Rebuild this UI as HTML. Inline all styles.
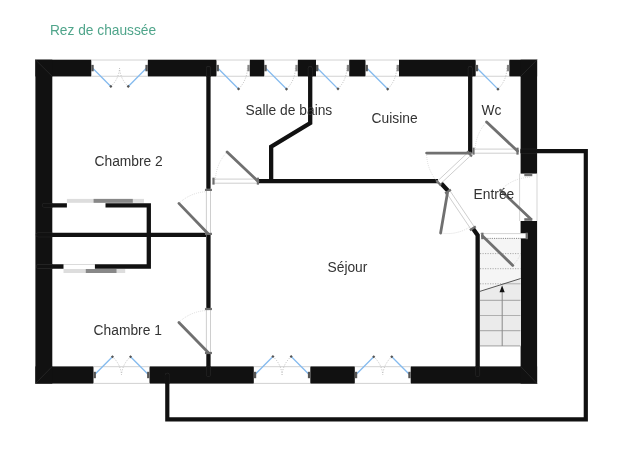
<!DOCTYPE html>
<html><head><meta charset="utf-8"><style>
html,body{margin:0;padding:0;background:#fff;overflow:hidden;width:618px;height:462px;}
svg{display:block;will-change:transform;font-family:"Liberation Sans",sans-serif;}
</style></head><body>
<svg width="618" height="462" viewBox="0 0 618 462">
<rect width="618" height="462" fill="#fff"/>
<rect x="35.4" y="59.7" width="55.90" height="16.75" fill="#111"/>
<rect x="147.8" y="59.7" width="68.70" height="16.75" fill="#111"/>
<rect x="249.8" y="59.7" width="14.50" height="16.75" fill="#111"/>
<rect x="297.8" y="59.7" width="18.20" height="16.75" fill="#111"/>
<rect x="349.2" y="59.7" width="16.30" height="16.75" fill="#111"/>
<rect x="399" y="59.7" width="76.70" height="16.75" fill="#111"/>
<rect x="509.3" y="59.7" width="27.80" height="16.75" fill="#111"/>
<rect x="35.4" y="366.4" width="58.10" height="17.2" fill="#111"/>
<rect x="149.5" y="366.4" width="104.30" height="17.2" fill="#111"/>
<rect x="310.3" y="366.4" width="44.50" height="17.2" fill="#111"/>
<rect x="410.7" y="366.4" width="126.40" height="17.2" fill="#111"/>
<rect x="35.4" y="59.7" width="16.9" height="323.90" fill="#111"/>
<rect x="520.6" y="59.7" width="16.5" height="113.90" fill="#111"/>
<rect x="520.6" y="221" width="16.5" height="162.60" fill="#111"/>
<line x1="35.4" y1="59.7" x2="52.3" y2="76.45" stroke="#2c2c2c" stroke-width="0.7"/>
<line x1="537.1" y1="59.7" x2="520.6" y2="76.45" stroke="#2c2c2c" stroke-width="0.7"/>
<line x1="35.4" y1="383.6" x2="52.3" y2="366.4" stroke="#2c2c2c" stroke-width="0.7"/>
<line x1="537.1" y1="383.6" x2="520.6" y2="366.4" stroke="#2c2c2c" stroke-width="0.7"/>
<line x1="91.3" y1="60.0" x2="147.8" y2="60.0" stroke="#d2d2d2" stroke-width="1"/>
<line x1="91.3" y1="76.25" x2="147.8" y2="76.25" stroke="#d2d2d2" stroke-width="1"/>
<path d="M110.85,86.42 A27.05,27.05 0 0 0 119.55,68.08" fill="none" stroke="#9a9a9a" stroke-width="0.65" stroke-dasharray="1,1.5"/>
<line x1="92.50" y1="68.08" x2="110.85" y2="86.42" stroke="#84baee" stroke-width="1.3"/>
<rect x="109.75" y="85.32" width="2.2" height="2.2" fill="#555" transform="rotate(45 110.85 86.42)"/>
<path d="M128.25,86.42 A27.05,27.05 0 0 1 119.55,68.08" fill="none" stroke="#9a9a9a" stroke-width="0.65" stroke-dasharray="1,1.5"/>
<line x1="146.60" y1="68.08" x2="128.25" y2="86.42" stroke="#84baee" stroke-width="1.3"/>
<rect x="127.15" y="85.32" width="2.2" height="2.2" fill="#555" transform="rotate(45 128.25 86.42)"/>
<rect x="91.30" y="64.88" width="2.4" height="6.4" fill="#555"/>
<rect x="145.40" y="64.88" width="2.4" height="6.4" fill="#555"/>
<line x1="216.5" y1="60.0" x2="249.8" y2="60.0" stroke="#d2d2d2" stroke-width="1"/>
<line x1="216.5" y1="76.25" x2="249.8" y2="76.25" stroke="#d2d2d2" stroke-width="1"/>
<path d="M238.56,88.93 A29.70,29.70 0 0 0 247.40,68.08" fill="none" stroke="#9a9a9a" stroke-width="0.65" stroke-dasharray="1,1.5"/>
<line x1="217.70" y1="68.08" x2="238.56" y2="88.93" stroke="#84baee" stroke-width="1.3"/>
<rect x="237.46" y="87.83" width="2.2" height="2.2" fill="#555" transform="rotate(45 238.56 88.93)"/>
<rect x="216.50" y="64.88" width="2.4" height="6.4" fill="#555"/>
<rect x="247.40" y="64.88" width="2.4" height="6.4" fill="#888"/>
<line x1="264.3" y1="60.0" x2="297.8" y2="60.0" stroke="#d2d2d2" stroke-width="1"/>
<line x1="264.3" y1="76.25" x2="297.8" y2="76.25" stroke="#d2d2d2" stroke-width="1"/>
<path d="M286.50,89.08 A29.90,29.90 0 0 0 295.40,68.08" fill="none" stroke="#9a9a9a" stroke-width="0.65" stroke-dasharray="1,1.5"/>
<line x1="265.50" y1="68.08" x2="286.50" y2="89.08" stroke="#84baee" stroke-width="1.3"/>
<rect x="285.40" y="87.98" width="2.2" height="2.2" fill="#555" transform="rotate(45 286.50 89.08)"/>
<rect x="264.30" y="64.88" width="2.4" height="6.4" fill="#555"/>
<rect x="295.40" y="64.88" width="2.4" height="6.4" fill="#888"/>
<line x1="316" y1="60.0" x2="349.2" y2="60.0" stroke="#d2d2d2" stroke-width="1"/>
<line x1="316" y1="76.25" x2="349.2" y2="76.25" stroke="#d2d2d2" stroke-width="1"/>
<path d="M337.99,88.86 A29.60,29.60 0 0 0 346.80,68.08" fill="none" stroke="#9a9a9a" stroke-width="0.65" stroke-dasharray="1,1.5"/>
<line x1="317.20" y1="68.08" x2="337.99" y2="88.86" stroke="#84baee" stroke-width="1.3"/>
<rect x="336.89" y="87.76" width="2.2" height="2.2" fill="#555" transform="rotate(45 337.99 88.86)"/>
<rect x="316.00" y="64.88" width="2.4" height="6.4" fill="#555"/>
<rect x="346.80" y="64.88" width="2.4" height="6.4" fill="#888"/>
<line x1="365.5" y1="60.0" x2="399" y2="60.0" stroke="#d2d2d2" stroke-width="1"/>
<line x1="365.5" y1="76.25" x2="399" y2="76.25" stroke="#d2d2d2" stroke-width="1"/>
<path d="M387.70,89.08 A29.90,29.90 0 0 0 396.60,68.08" fill="none" stroke="#9a9a9a" stroke-width="0.65" stroke-dasharray="1,1.5"/>
<line x1="366.70" y1="68.08" x2="387.70" y2="89.08" stroke="#84baee" stroke-width="1.3"/>
<rect x="386.60" y="87.98" width="2.2" height="2.2" fill="#555" transform="rotate(45 387.70 89.08)"/>
<rect x="365.50" y="64.88" width="2.4" height="6.4" fill="#555"/>
<rect x="396.60" y="64.88" width="2.4" height="6.4" fill="#888"/>
<line x1="475.7" y1="60.0" x2="509.3" y2="60.0" stroke="#d2d2d2" stroke-width="1"/>
<line x1="475.7" y1="76.25" x2="509.3" y2="76.25" stroke="#d2d2d2" stroke-width="1"/>
<path d="M497.97,89.15 A30.00,30.00 0 0 0 506.90,68.08" fill="none" stroke="#9a9a9a" stroke-width="0.65" stroke-dasharray="1,1.5"/>
<line x1="476.90" y1="68.08" x2="497.97" y2="89.15" stroke="#84baee" stroke-width="1.3"/>
<rect x="496.87" y="88.05" width="2.2" height="2.2" fill="#555" transform="rotate(45 497.97 89.15)"/>
<rect x="475.70" y="64.88" width="2.4" height="6.4" fill="#555"/>
<rect x="506.90" y="64.88" width="2.4" height="6.4" fill="#888"/>
<line x1="93.5" y1="366.7" x2="149.5" y2="366.7" stroke="#d2d2d2" stroke-width="1"/>
<line x1="93.5" y1="383.4" x2="149.5" y2="383.4" stroke="#d2d2d2" stroke-width="1"/>
<path d="M112.46,356.74 A27.00,27.00 0 0 1 121.50,374.70" fill="none" stroke="#9a9a9a" stroke-width="0.65" stroke-dasharray="1,1.5"/>
<line x1="94.50" y1="374.70" x2="112.46" y2="356.74" stroke="#84baee" stroke-width="1.3"/>
<rect x="111.36" y="355.64" width="2.2" height="2.2" fill="#555" transform="rotate(45 112.46 356.74)"/>
<path d="M130.54,356.74 A27.00,27.00 0 0 0 121.50,374.70" fill="none" stroke="#9a9a9a" stroke-width="0.65" stroke-dasharray="1,1.5"/>
<line x1="148.50" y1="374.70" x2="130.54" y2="356.74" stroke="#84baee" stroke-width="1.3"/>
<rect x="129.44" y="355.64" width="2.2" height="2.2" fill="#555" transform="rotate(45 130.54 356.74)"/>
<rect x="93.50" y="371.80" width="2.4" height="6.4" fill="#555"/>
<rect x="147.10" y="371.80" width="2.4" height="6.4" fill="#555"/>
<line x1="253.8" y1="366.7" x2="310.3" y2="366.7" stroke="#d2d2d2" stroke-width="1"/>
<line x1="253.8" y1="383.4" x2="310.3" y2="383.4" stroke="#d2d2d2" stroke-width="1"/>
<path d="M272.94,356.56 A27.25,27.25 0 0 1 282.05,374.70" fill="none" stroke="#9a9a9a" stroke-width="0.65" stroke-dasharray="1,1.5"/>
<line x1="254.80" y1="374.70" x2="272.94" y2="356.56" stroke="#84baee" stroke-width="1.3"/>
<rect x="271.84" y="355.46" width="2.2" height="2.2" fill="#555" transform="rotate(45 272.94 356.56)"/>
<path d="M291.16,356.56 A27.25,27.25 0 0 0 282.05,374.70" fill="none" stroke="#9a9a9a" stroke-width="0.65" stroke-dasharray="1,1.5"/>
<line x1="309.30" y1="374.70" x2="291.16" y2="356.56" stroke="#84baee" stroke-width="1.3"/>
<rect x="290.06" y="355.46" width="2.2" height="2.2" fill="#555" transform="rotate(45 291.16 356.56)"/>
<rect x="253.80" y="371.80" width="2.4" height="6.4" fill="#555"/>
<rect x="307.90" y="371.80" width="2.4" height="6.4" fill="#555"/>
<line x1="354.8" y1="366.7" x2="410.7" y2="366.7" stroke="#d2d2d2" stroke-width="1"/>
<line x1="354.8" y1="383.4" x2="410.7" y2="383.4" stroke="#d2d2d2" stroke-width="1"/>
<path d="M373.73,356.77 A26.95,26.95 0 0 1 382.75,374.70" fill="none" stroke="#9a9a9a" stroke-width="0.65" stroke-dasharray="1,1.5"/>
<line x1="355.80" y1="374.70" x2="373.73" y2="356.77" stroke="#84baee" stroke-width="1.3"/>
<rect x="372.63" y="355.67" width="2.2" height="2.2" fill="#555" transform="rotate(45 373.73 356.77)"/>
<path d="M391.77,356.77 A26.95,26.95 0 0 0 382.75,374.70" fill="none" stroke="#9a9a9a" stroke-width="0.65" stroke-dasharray="1,1.5"/>
<line x1="409.70" y1="374.70" x2="391.77" y2="356.77" stroke="#84baee" stroke-width="1.3"/>
<rect x="390.67" y="355.67" width="2.2" height="2.2" fill="#555" transform="rotate(45 391.77 356.77)"/>
<rect x="354.80" y="371.80" width="2.4" height="6.4" fill="#555"/>
<rect x="408.30" y="371.80" width="2.4" height="6.4" fill="#555"/>
<rect x="479.8" y="237.6" width="40.9" height="108.5" fill="#f5f5f5"/>
<path d="M479.8,291.4 L520.7,278.5 L520.7,346 L479.8,346 Z" fill="#ebebeb"/>
<line x1="480" y1="253.6" x2="520.5" y2="253.6" stroke="#aaa" stroke-width="1" stroke-dasharray="1.2,1.3"/>
<line x1="480" y1="268.7" x2="520.5" y2="268.7" stroke="#aaa" stroke-width="1" stroke-dasharray="1.2,1.3"/>
<line x1="480" y1="283.8" x2="503.9" y2="283.8" stroke="#aaa" stroke-width="1" stroke-dasharray="1.2,1.3"/>
<line x1="480" y1="300.4" x2="520.5" y2="300.4" stroke="#b0b0b0" stroke-width="1.2"/>
<line x1="480" y1="315.5" x2="520.5" y2="315.5" stroke="#b0b0b0" stroke-width="1.2"/>
<line x1="480" y1="330.7" x2="520.5" y2="330.7" stroke="#b0b0b0" stroke-width="1.2"/>
<line x1="480" y1="345.8" x2="520.5" y2="345.8" stroke="#b0b0b0" stroke-width="1.2"/>
<line x1="503.9" y1="283.8" x2="520.5" y2="283.8" stroke="#b0b0b0" stroke-width="1"/>
<path d="M502.2,289.7 L502.2,291.6 L502.2,291.4 " fill="none"/>
<line x1="479.8" y1="291.4" x2="520.7" y2="278.5" stroke="#444" stroke-width="0.9"/>
<line x1="502.2" y1="291" x2="502.2" y2="346" stroke="#888" stroke-width="1"/>
<path d="M502.1,285.6 L504.7,292.2 L499.5,292.2 Z" fill="#111"/>
<path d="M208.45,68 L208.45,188.9" fill="none" stroke="#111" stroke-width="4.3" stroke-linecap="butt" stroke-linejoin="miter"/>
<path d="M208.45,233.8 L208.45,308.0" fill="none" stroke="#111" stroke-width="4.3" stroke-linecap="butt" stroke-linejoin="miter"/>
<path d="M208.45,354.0 L208.45,375" fill="none" stroke="#111" stroke-width="4.3" stroke-linecap="butt" stroke-linejoin="miter"/>
<path d="M52,234.8 L206.0,234.8" fill="none" stroke="#111" stroke-width="4.3" stroke-linecap="butt" stroke-linejoin="miter"/>
<path d="M310.2,68 L310.2,123 L271.15,146.6 L271.15,181.2" fill="none" stroke="#111" stroke-width="4.3" stroke-linecap="butt" stroke-linejoin="miter"/>
<path d="M258.9,181.15 L438.0,181.15" fill="none" stroke="#111" stroke-width="4.3" stroke-linecap="butt" stroke-linejoin="miter"/>
<path d="M470.2,68 L470.2,153.2" fill="none" stroke="#111" stroke-width="4.3" stroke-linecap="butt" stroke-linejoin="miter"/>
<path d="M441.0,183.3 L448.2,191.0" fill="none" stroke="#111" stroke-width="4.3" stroke-linecap="butt" stroke-linejoin="miter"/>
<path d="M472.9,228.6 L477.65,235.2 L477.65,375" fill="none" stroke="#111" stroke-width="4.3" stroke-linecap="butt" stroke-linejoin="miter"/>
<path d="M52,205.3 L148.8,205.3 L148.8,266.5 L52,266.5" fill="none" stroke="#111" stroke-width="4.3" stroke-linecap="butt" stroke-linejoin="miter"/>
<line x1="212.40" y1="183.20" x2="259.00" y2="183.20" stroke="#c8c8c8" stroke-width="0.9"/>
<line x1="212.40" y1="179.10" x2="259.00" y2="179.10" stroke="#c8c8c8" stroke-width="0.9"/>
<line x1="213.50" y1="177.65" x2="213.50" y2="184.65" stroke="#6e6e6e" stroke-width="2.2"/>
<line x1="257.90" y1="177.65" x2="257.90" y2="184.65" stroke="#6e6e6e" stroke-width="2.2"/>
<path d="M227.10,151.90 A42.51,42.51 0 0 0 215.39,181.20" fill="none" stroke="#bdbdbd" stroke-width="0.55" stroke-dasharray="0.9,1.1"/>
<line x1="257.9" y1="181.2" x2="227.1" y2="151.9" stroke="#707070" stroke-width="2.8" stroke-linecap="round"/>
<line x1="206.40" y1="188.80" x2="206.40" y2="235.00" stroke="#c8c8c8" stroke-width="0.9"/>
<line x1="210.50" y1="188.80" x2="210.50" y2="235.00" stroke="#c8c8c8" stroke-width="0.9"/>
<line x1="211.95" y1="189.90" x2="204.95" y2="189.90" stroke="#6e6e6e" stroke-width="2.2"/>
<line x1="211.95" y1="233.90" x2="204.95" y2="233.90" stroke="#6e6e6e" stroke-width="2.2"/>
<path d="M178.90,203.40 A41.80,41.80 0 0 1 207.90,191.70" fill="none" stroke="#bdbdbd" stroke-width="0.55" stroke-dasharray="0.9,1.1"/>
<line x1="207.9" y1="233.5" x2="178.9" y2="203.4" stroke="#707070" stroke-width="2.8" stroke-linecap="round"/>
<line x1="206.40" y1="307.90" x2="206.40" y2="354.10" stroke="#c8c8c8" stroke-width="0.9"/>
<line x1="210.50" y1="307.90" x2="210.50" y2="354.10" stroke="#c8c8c8" stroke-width="0.9"/>
<line x1="211.95" y1="309.00" x2="204.95" y2="309.00" stroke="#6e6e6e" stroke-width="2.2"/>
<line x1="211.95" y1="353.00" x2="204.95" y2="353.00" stroke="#6e6e6e" stroke-width="2.2"/>
<path d="M178.90,322.40 A42.01,42.01 0 0 1 208.20,310.49" fill="none" stroke="#bdbdbd" stroke-width="0.55" stroke-dasharray="0.9,1.1"/>
<line x1="208.2" y1="352.5" x2="178.9" y2="322.4" stroke="#707070" stroke-width="2.8" stroke-linecap="round"/>
<line x1="472.40" y1="153.20" x2="518.60" y2="153.20" stroke="#c8c8c8" stroke-width="0.9"/>
<line x1="472.40" y1="149.10" x2="518.60" y2="149.10" stroke="#c8c8c8" stroke-width="0.9"/>
<line x1="473.50" y1="147.65" x2="473.50" y2="154.65" stroke="#6e6e6e" stroke-width="2.2"/>
<line x1="517.50" y1="147.65" x2="517.50" y2="154.65" stroke="#6e6e6e" stroke-width="2.2"/>
<path d="M486.60,122.00 A42.45,42.45 0 0 0 475.05,151.10" fill="none" stroke="#bdbdbd" stroke-width="0.55" stroke-dasharray="0.9,1.1"/>
<line x1="517.5" y1="151.1" x2="486.6" y2="122.0" stroke="#707070" stroke-width="2.8" stroke-linecap="round"/>
<line x1="468.90" y1="151.61" x2="436.40" y2="182.11" stroke="#c8c8c8" stroke-width="0.9"/>
<line x1="471.70" y1="154.59" x2="439.20" y2="185.09" stroke="#c8c8c8" stroke-width="0.9"/>
<line x1="471.89" y1="156.40" x2="467.10" y2="151.30" stroke="#6e6e6e" stroke-width="2.2"/>
<line x1="441.00" y1="185.40" x2="436.21" y2="180.30" stroke="#6e6e6e" stroke-width="2.2"/>
<path d="M426.60,153.10 A43.90,43.90 0 0 0 438.49,183.14" fill="none" stroke="#bdbdbd" stroke-width="0.55" stroke-dasharray="0.9,1.1"/>
<line x1="470.5" y1="153.1" x2="426.6" y2="153.1" stroke="#707070" stroke-width="2.8" stroke-linecap="round"/>
<line x1="445.70" y1="191.75" x2="471.70" y2="230.35" stroke="#c8c8c8" stroke-width="0.9"/>
<line x1="449.10" y1="189.45" x2="475.10" y2="228.05" stroke="#c8c8c8" stroke-width="0.9"/>
<line x1="450.92" y1="189.56" x2="445.11" y2="193.47" stroke="#6e6e6e" stroke-width="2.2"/>
<line x1="475.69" y1="226.33" x2="469.88" y2="230.24" stroke="#6e6e6e" stroke-width="2.2"/>
<path d="M440.60,233.00 A40.89,40.89 0 0 0 470.35,226.60" fill="none" stroke="#bdbdbd" stroke-width="0.55" stroke-dasharray="0.9,1.1"/>
<line x1="447.5" y1="192.7" x2="440.6" y2="233.0" stroke="#707070" stroke-width="2.8" stroke-linecap="round"/>
<line x1="519.6" y1="173.6" x2="519.6" y2="221" stroke="#d0d0d0" stroke-width="0.9"/>
<line x1="537.0" y1="173.6" x2="537.0" y2="221" stroke="#d0d0d0" stroke-width="0.9"/>
<rect x="524.3" y="173.6" width="8" height="2.6" fill="#6e6e6e"/>
<rect x="524.3" y="218.2" width="8" height="2.6" fill="#6e6e6e"/>
<path d="M500.50,190.30 A41.80,41.80 0 0 1 530.80,177.30" fill="none" stroke="#bdbdbd" stroke-width="0.55" stroke-dasharray="0.9,1.1"/>
<line x1="530.8" y1="219.1" x2="500.5" y2="190.3" stroke="#707070" stroke-width="2.8" stroke-linecap="round"/>
<rect x="480" y="233.6" width="47.6" height="4.8" fill="#fff"/>
<line x1="480" y1="233.6" x2="527" y2="233.6" stroke="#d0d0d0" stroke-width="0.9"/>
<line x1="483" y1="238.4" x2="521" y2="238.4" stroke="#777" stroke-width="0.9" stroke-dasharray="1.1,1.1"/>
<rect x="481.2" y="232.7" width="2.3" height="6.5" fill="#6e6e6e"/>
<rect x="525.6" y="232.7" width="2.3" height="6.5" fill="#6e6e6e"/>
<path d="M512.80,265.40 A42.22,42.22 0 0 0 520.50,254.35" fill="none" stroke="#bdbdbd" stroke-width="0.55" stroke-dasharray="0.9,1.1"/>
<line x1="482.5" y1="236.0" x2="512.8" y2="265.4" stroke="#707070" stroke-width="2.8" stroke-linecap="round"/>
<rect x="66.9" y="202.9" width="38.6" height="5.3" fill="#fff"/>
<rect x="66.9" y="198.9" width="77.1" height="3.9" fill="#dddddd"/>
<rect x="93.6" y="198.9" width="39.2" height="3.9" fill="#888"/>
<rect x="63.5" y="264.2" width="31.4" height="5.0" fill="#fff"/>
<rect x="63.5" y="269.0" width="61.7" height="4.0" fill="#dddddd"/>
<rect x="85.8" y="269.0" width="30.7" height="4.0" fill="#888"/>
<text x="49.9" y="35.2" fill="#50a58b" font-size="13.75">Rez de chaussée</text>
<text x="245.6" y="114.8" fill="#333" font-size="13.8">Salle de bains</text>
<text x="371.6" y="122.8" fill="#333" font-size="13.8">Cuisine</text>
<text x="94.5" y="165.7" fill="#333" font-size="13.8">Chambre 2</text>
<text x="93.6" y="334.8" fill="#333" font-size="13.8">Chambre 1</text>
<text x="327.5" y="272" fill="#333" font-size="13.8">Séjour</text>
<text x="481.6" y="114.7" fill="#333" font-size="13.8">Wc</text>
<text x="473.6" y="199.2" fill="#333" font-size="13.8">Entrée</text>
<clipPath id="wc"><rect x="35.4" y="59.7" width="501.7" height="16.75"/><rect x="35.4" y="366.4" width="501.7" height="17.2"/><rect x="35.4" y="59.7" width="16.9" height="323.9"/><rect x="520.6" y="59.7" width="16.5" height="113.9"/></clipPath>
<g clip-path="url(#wc)">
<line x1="208.45" y1="68.5" x2="208.45" y2="80" stroke="#2a2a2a" stroke-width="4.8" stroke-linecap="round"/>
<line x1="208.45" y1="68.5" x2="208.45" y2="80" stroke="#111" stroke-width="3.6999999999999997" stroke-linecap="round"/>
<line x1="310.2" y1="68.5" x2="310.2" y2="80" stroke="#2a2a2a" stroke-width="4.8" stroke-linecap="round"/>
<line x1="310.2" y1="68.5" x2="310.2" y2="80" stroke="#111" stroke-width="3.6999999999999997" stroke-linecap="round"/>
<line x1="470.2" y1="68.5" x2="470.2" y2="80" stroke="#2a2a2a" stroke-width="4.8" stroke-linecap="round"/>
<line x1="470.2" y1="68.5" x2="470.2" y2="80" stroke="#111" stroke-width="3.6999999999999997" stroke-linecap="round"/>
<line x1="208.45" y1="360" x2="208.45" y2="374.5" stroke="#2a2a2a" stroke-width="4.8" stroke-linecap="round"/>
<line x1="208.45" y1="360" x2="208.45" y2="374.5" stroke="#111" stroke-width="3.6999999999999997" stroke-linecap="round"/>
<line x1="477.65" y1="360" x2="477.65" y2="374.5" stroke="#2a2a2a" stroke-width="4.8" stroke-linecap="round"/>
<line x1="477.65" y1="360" x2="477.65" y2="374.5" stroke="#111" stroke-width="3.6999999999999997" stroke-linecap="round"/>
<line x1="44.5" y1="205.3" x2="56" y2="205.3" stroke="#2a2a2a" stroke-width="4.8" stroke-linecap="round"/>
<line x1="44.5" y1="205.3" x2="56" y2="205.3" stroke="#111" stroke-width="3.6999999999999997" stroke-linecap="round"/>
<line x1="38" y1="234.8" x2="56" y2="234.8" stroke="#2a2a2a" stroke-width="4.8" stroke-linecap="round"/>
<line x1="38" y1="234.8" x2="56" y2="234.8" stroke="#111" stroke-width="3.6999999999999997" stroke-linecap="round"/>
<line x1="38.5" y1="266.5" x2="56" y2="266.5" stroke="#2a2a2a" stroke-width="4.8" stroke-linecap="round"/>
<line x1="38.5" y1="266.5" x2="56" y2="266.5" stroke="#111" stroke-width="3.6999999999999997" stroke-linecap="round"/>
<line x1="518" y1="151.1" x2="536" y2="151.1" stroke="#2a2a2a" stroke-width="4.7" stroke-linecap="round"/>
<line x1="518" y1="151.1" x2="536" y2="151.1" stroke="#111" stroke-width="3.6" stroke-linecap="round"/>
<line x1="167.3" y1="375" x2="167.3" y2="390" stroke="#2a2a2a" stroke-width="4.7" stroke-linecap="round"/>
<line x1="167.3" y1="375" x2="167.3" y2="390" stroke="#111" stroke-width="3.6" stroke-linecap="round"/>
</g>
<path d="M167.3,375 L167.3,419.4 L585.8,419.4 L585.8,151.1 L537,151.1" fill="none" stroke="#111" stroke-width="4.2" stroke-linecap="butt" stroke-linejoin="miter"/>
</svg></body></html>
